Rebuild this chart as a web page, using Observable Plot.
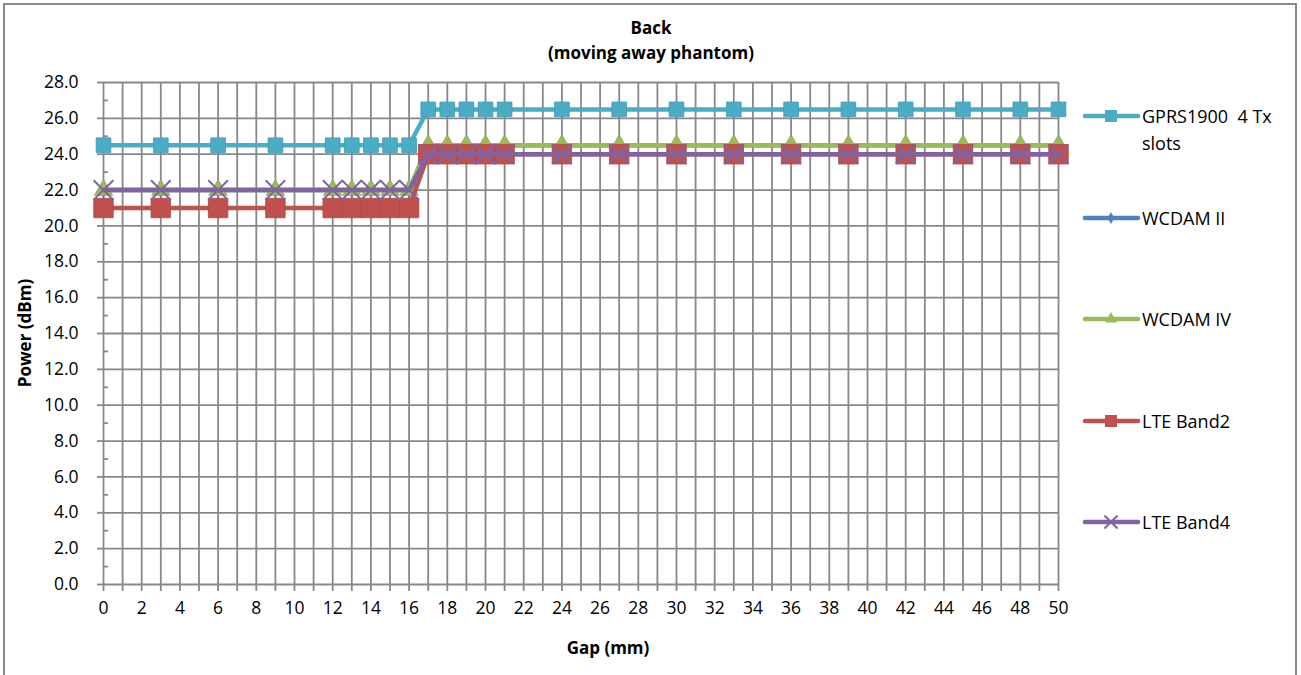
<!DOCTYPE html>
<html>
<head>
<meta charset="utf-8">
<script src="https://cdn.jsdelivr.net/npm/d3@7"></script>
<script src="https://cdn.jsdelivr.net/npm/@observablehq/plot@0.6"></script>
<style>
  html, body { margin: 0; padding: 0; background: #fff; }
  #wrap { position: relative; width: 1301px; height: 675px; overflow: hidden; font-family: "Open Sans", sans-serif; color: #000; }
  #frame { position: absolute; left: 3px; top: 3px; width: 1294px; height: 700px; border: 2px solid #8a8a8a; box-sizing: border-box; }
  .t { position: absolute; font-weight: bold; font-size: 17px; white-space: nowrap; transform: translate(-50%, -50%); }
  .leg { position: absolute; font-size: 18px; line-height: 27px; white-space: pre; }
  #chart { position: absolute; left: 0; top: 0; }
</style>
</head>
<body>
<div id="wrap">
  <div id="chart"></div>
  <div id="frame"></div>
</div>
<script>
// ---- data ----
const gaps = [0, 3, 6, 9, 12, 13, 14, 15, 16, 17, 18, 19, 20, 21, 24, 27, 30, 33, 36, 39, 42, 45, 48, 50];
const gprs1900 = [24.5, 24.5, 24.5, 24.5, 24.5, 24.5, 24.5, 24.5, 24.5, 26.5, 26.5, 26.5, 26.5, 26.5, 26.5, 26.5, 26.5, 26.5, 26.5, 26.5, 26.5, 26.5, 26.5, 26.5];
const wcdamII = [22, 22, 22, 22, 22, 22, 22, 22, 22, 24.5, 24.5, 24.5, 24.5, 24.5, 24.5, 24.5, 24.5, 24.5, 24.5, 24.5, 24.5, 24.5, 24.5, 24.5];
const wcdamIV = [22, 22, 22, 22, 22, 22, 22, 22, 22, 24.5, 24.5, 24.5, 24.5, 24.5, 24.5, 24.5, 24.5, 24.5, 24.5, 24.5, 24.5, 24.5, 24.5, 24.5];
const lteBand2 = [21, 21, 21, 21, 21, 21, 21, 21, 21, 24, 24, 24, 24, 24, 24, 24, 24, 24, 24, 24, 24, 24, 24, 24];
const lteBand4 = [22, 22, 22, 22, 22, 22, 22, 22, 22, 24, 24, 24, 24, 24, 24, 24, 24, 24, 24, 24, 24, 24, 24, 24];
const seriesNames = ["GPRS1900  4 Tx\nslots", "WCDAM II", "WCDAM IV", "LTE Band2", "LTE Band4"];
const xTicks = d3.range(0, 51, 1);
const yMajor = d3.range(0, 29, 2);
const yMinor = d3.range(1, 28, 2);
const title = "Back";
const subtitle = "(moving away phantom)";
const xTitle = "Gap (mm)";
const yTitle = "Power (dBm)";

const seriesValues = [gprs1900, wcdamII, wcdamIV, lteBand2, lteBand4];
const styles = [
  {color: "#4BACC6", symbol: "square", r: 8.3, lr: 6.8},
  {color: "#4F81BD", symbol: "diamond", r: 4.5, lr: 3.6},
  {color: "#9BBB59", symbol: "triangle", r: 6.8, lr: 4.5},
  {color: "#C0504D", symbol: "square", r: 11, lr: 6.8},
  {color: "#8064A2", symbol: "times", r: 9, lr: 6}
];
const tables = seriesValues.map((vals, i) => gaps.map((g, j) => ({gap: g, power: vals[j], s: i})));

const W = 1301, H = 675;
const gridColor = "#888888";
const marks = [
  Plot.gridX(xTicks, {stroke: gridColor, strokeOpacity: 1, strokeWidth: 1.8}),
  Plot.gridY(yMajor, {stroke: gridColor, strokeOpacity: 1, strokeWidth: 1.8}),
  Plot.axisX(xTicks, {tickSize: 7, tickPadding: 10, stroke: gridColor, strokeWidth: 1.8, fill: "#000",
    tickFormat: d => (d % 2 === 0 ? String(d) : ""), label: null}),
  Plot.axisY(yMajor, {tickSize: 6, tickPadding: 19, stroke: gridColor, strokeWidth: 1.8, fill: "#000",
    tickFormat: d3.format(".1f"), label: null}),
  Plot.axisY(yMinor, {tickSize: -5, tickPadding: 0, stroke: gridColor, strokeWidth: 1.8,
    tickFormat: () => "", label: null})
];
tables.forEach((t, i) => {
  const st = styles[i];
  marks.push(Plot.line(t, {x: "gap", y: "power", stroke: st.color, strokeWidth: 4.5, strokeLinejoin: "round", strokeLinecap: "round"}));
  if (st.symbol === "times") {
    marks.push(Plot.dot(t, {x: "gap", y: "power", symbol: "times", r: st.r, stroke: st.color, strokeWidth: 2}));
  } else {
    marks.push(Plot.dot(t, {x: "gap", y: "power", symbol: st.symbol, r: st.r, fill: st.color, stroke: d3.color(st.color).darker(0.3).formatHex(), strokeWidth: 0.8}));
  }
});

const plot = Plot.plot({
  width: W, height: H,
  marginLeft: 103, marginRight: W - 1058, marginTop: 82, marginBottom: H - 584,
  x: {type: "linear", domain: [0, 50], axis: null},
  y: {type: "linear", domain: [0, 28], axis: null},
  style: {fontFamily: "Open Sans, sans-serif", fontSize: "17.5px", color: "#000", background: "transparent", overflow: "visible"},
  marks
});
document.getElementById("chart").appendChild(plot);

const wrap = document.getElementById("wrap");
function addText(txt, x, y, cls, rot) {
  const d = document.createElement("div");
  d.className = cls;
  d.textContent = txt;
  d.style.left = x + "px";
  d.style.top = y + "px";
  if (rot) d.style.transform = "translate(-50%, -50%) rotate(-90deg)";
  wrap.appendChild(d);
}
addText(title, 651, 27, "t");
addText(subtitle, 651, 52, "t");
addText(xTitle, 608, 647, "t");
addText(yTitle, 24, 333, "t", true);

// legend
const legY = [116, 218, 319, 421, 522];
const ns = "http://www.w3.org/2000/svg";
seriesNames.forEach((name, i) => {
  const st = styles[i];
  const svg = document.createElementNS(ns, "svg");
  svg.setAttribute("width", 70); svg.setAttribute("height", 30);
  svg.style.position = "absolute";
  svg.style.left = "1076px";
  svg.style.top = (legY[i] - 15) + "px";
  const ln = document.createElementNS(ns, "line");
  ln.setAttribute("x1", 9); ln.setAttribute("x2", 62); ln.setAttribute("y1", 15); ln.setAttribute("y2", 15);
  ln.setAttribute("stroke", st.color); ln.setAttribute("stroke-width", 4.5); ln.setAttribute("stroke-linecap", "round");
  svg.appendChild(ln);
  const symMap = {square: d3.symbolSquare, diamond: d3.symbolDiamond, triangle: d3.symbolTriangle, times: d3.symbolTimes};
  const p = document.createElementNS(ns, "path");
  p.setAttribute("d", d3.symbol(symMap[st.symbol], Math.PI * st.lr * st.lr)());
  p.setAttribute("transform", "translate(35,15)");
  if (st.symbol === "times") { p.setAttribute("fill", "none"); p.setAttribute("stroke", st.color); p.setAttribute("stroke-width", 2); }
  else p.setAttribute("fill", st.color);
  svg.appendChild(p);
  wrap.appendChild(svg);
  const d = document.createElement("div");
  d.className = "leg";
  d.textContent = name;
  d.style.left = "1142px";
  d.style.top = (legY[i] - 13.5) + "px";
  wrap.appendChild(d);
});
</script>
</body>
</html>
